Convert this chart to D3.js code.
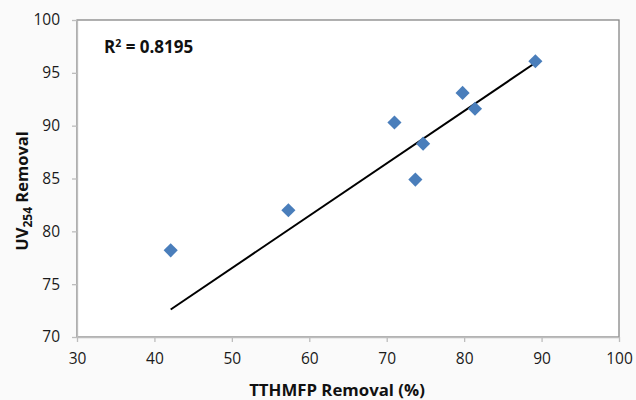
<!DOCTYPE html>
<html>
<head>
<meta charset="utf-8">
<script src="https://cdn.jsdelivr.net/npm/d3@7"></script>
<style>
  body { margin: 0; background: #fafafa; }
  svg { display: block; }
</style>
</head>
<body>
<div id="chart"></div>
<script>
// values
var removalX = [42.1, 57.3, 71.0, 74.7, 73.7, 79.8, 81.4, 89.2];
var removalY = [78.2, 82.0, 90.3, 88.3, 84.9, 93.1, 91.6, 96.1];
var trendX = [42.1, 89.3];
var trendY = [72.6, 96.0];
var xTicks = [30, 40, 50, 60, 70, 80, 90, 100];
var yTicks = [70, 75, 80, 85, 90, 95, 100];
var rSquared = "0.8195";

const W = 636, H = 400;
const margin = {top: 20, right: 17, bottom: 63, left: 77},
  width = W - margin.left - margin.right,
  height = H - margin.top - margin.bottom;

const svg = d3.select("#chart").append("svg")
  .attr("width", W)
  .attr("height", H);

const g = svg.append("g")
  .attr("transform", `translate(${margin.left}, ${margin.top})`);

const x = d3.scaleLinear().domain([30, 100]).range([0, width]);
const y = d3.scaleLinear().domain([70, 100]).range([height, 0]);

// plot area with dark border
g.append("rect")
  .attr("x", 0).attr("y", 0)
  .attr("width", width).attr("height", height)
  .style("fill", "#ffffff")
  .style("stroke", "#868686")
  .style("stroke-width", 1.3);

// axes
const xAxis = g.append("g")
  .attr("transform", `translate(0, ${height})`)
  .call(d3.axisBottom(x).tickValues(xTicks).tickSize(5).tickPadding(11).tickSizeOuter(0));
const yAxis = g.append("g")
  .call(d3.axisLeft(y).tickValues(yTicks).tickSize(5).tickPadding(12).tickSizeOuter(0));

[xAxis, yAxis].forEach(function(a) {
  a.select(".domain").style("stroke", "#bdbdbd").style("stroke-width", 1.3);
  a.selectAll(".tick line").style("stroke", "#bdbdbd").style("stroke-width", 1.3);
  a.selectAll(".tick text")
    .style("font-family", "'Open Sans', sans-serif")
    .style("font-size", "15.5px")
    .style("fill", "#1a1a1a");
});

// trend line
g.append("line")
  .attr("x1", x(trendX[0])).attr("y1", y(trendY[0]))
  .attr("x2", x(trendX[1])).attr("y2", y(trendY[1]))
  .style("stroke", "#000")
  .style("stroke-width", 2);

// diamonds
const pts = removalX.map(function(v, i) { return {x: v, y: removalY[i]}; });
g.selectAll(".pt")
  .data(pts)
  .join("path")
  .attr("class", "pt")
  .attr("d", d3.symbol().type(d3.symbolSquare).size(100))
  .attr("transform", function(d) { return `translate(${x(d.x)}, ${y(d.y)}) rotate(45)`; })
  .style("fill", "#4a7ebb");

// R squared label
const rt = g.append("text")
  .attr("x", 27)
  .attr("y", 33)
  .style("font-family", "'Open Sans', sans-serif")
  .style("font-weight", "bold")
  .style("font-size", "17px")
  .style("fill", "#111");
rt.append("tspan").text("R");
rt.append("tspan").attr("dy", -6).style("font-size", "10.5px").text("2");
rt.append("tspan").attr("dy", 6).text(" = " + rSquared);

// x axis title
svg.append("text")
  .attr("x", 337)
  .attr("y", 396)
  .attr("text-anchor", "middle")
  .style("font-family", "'Open Sans', sans-serif")
  .style("font-weight", "bold")
  .style("font-size", "16.8px")
  .style("fill", "#111")
  .text("TTHMFP Removal (%)");

// y axis title
const yt = svg.append("text")
  .attr("transform", "translate(28, 191) rotate(-90)")
  .attr("text-anchor", "middle")
  .style("font-family", "'Open Sans', sans-serif")
  .style("font-weight", "bold")
  .style("font-size", "16.5px")
  .style("fill", "#111");
yt.append("tspan").text("UV");
yt.append("tspan").attr("dy", 4).style("font-size", "12px").text("254");
yt.append("tspan").attr("dy", -4).text(" Removal");
</script>
</body>
</html>
